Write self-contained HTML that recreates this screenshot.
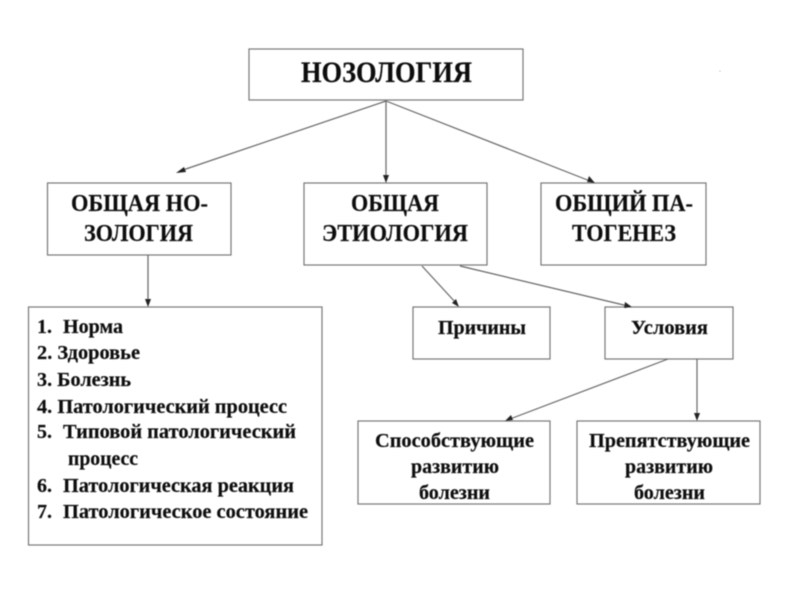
<!DOCTYPE html>
<html><head><meta charset="utf-8"><style>
html,body{margin:0;padding:0;background:#fff;width:800px;height:600px;overflow:hidden}
svg{display:block}
text{font-family:"Liberation Serif","Noto Serif CJK SC",serif;font-weight:bold;fill:#111;stroke:#111;stroke-width:.2}
.a{font-size:30px}.b{font-size:24.5px}.c{font-size:20.5px}
rect{fill:none;stroke:#777;stroke-width:1.2}
line{stroke:#666;stroke-width:1.2}
polygon{fill:#222}
</style></head><body>
<svg width="800" height="600" viewBox="0 0 800 600" xmlns="http://www.w3.org/2000/svg">
<defs><filter id="s" x="-2%" y="-2%" width="104%" height="104%"><feGaussianBlur stdDeviation="0.5"/></filter></defs>
<rect x="0" y="0" width="800" height="600" style="fill:#fff;stroke:none"/>
<g filter="url(#s)">
<text class="a" x="301" y="82" textLength="171" lengthAdjust="spacingAndGlyphs">НОЗОЛОГИЯ</text>
<text class="b" x="71" y="211" textLength="137" lengthAdjust="spacingAndGlyphs">ОБЩАЯ НО-</text>
<text class="b" x="84" y="241" textLength="109" lengthAdjust="spacingAndGlyphs">ЗОЛОГИЯ</text>
<text class="b" x="351" y="211" textLength="88" lengthAdjust="spacingAndGlyphs">ОБЩАЯ</text>
<text class="b" x="322" y="241" textLength="146" lengthAdjust="spacingAndGlyphs">ЭТИОЛОГИЯ</text>
<text class="b" x="555" y="211" textLength="138" lengthAdjust="spacingAndGlyphs">ОБЩИЙ ПА-</text>
<text class="b" x="572" y="241" textLength="104" lengthAdjust="spacingAndGlyphs">ТОГЕНЕЗ</text>

<text class="c" x="37" y="333" textLength="15" lengthAdjust="spacingAndGlyphs">1.</text>
<text class="c" x="63" y="333" textLength="60" lengthAdjust="spacingAndGlyphs">Норма</text>
<text class="c" x="37" y="359" textLength="103" lengthAdjust="spacingAndGlyphs">2. Здоровье</text>
<text class="c" x="37" y="386" textLength="94" lengthAdjust="spacingAndGlyphs">3. Болезнь</text>
<text class="c" x="37" y="413" textLength="250" lengthAdjust="spacingAndGlyphs">4. Патологический процесс</text>
<text class="c" x="37" y="438" textLength="15" lengthAdjust="spacingAndGlyphs">5.</text>
<text class="c" x="63" y="438" textLength="233" lengthAdjust="spacingAndGlyphs">Типовой патологический</text>
<text class="c" x="68" y="465" textLength="70" lengthAdjust="spacingAndGlyphs">процесс</text>
<text class="c" x="37" y="492" textLength="15" lengthAdjust="spacingAndGlyphs">6.</text>
<text class="c" x="63" y="492" textLength="231" lengthAdjust="spacingAndGlyphs">Патологическая реакция</text>
<text class="c" x="37" y="518" textLength="15" lengthAdjust="spacingAndGlyphs">7.</text>
<text class="c" x="63" y="518" textLength="245" lengthAdjust="spacingAndGlyphs">Патологическое состояние</text>

<text class="c" x="438" y="334" textLength="88" lengthAdjust="spacingAndGlyphs">Причины</text>
<text class="c" x="631" y="334" textLength="77" lengthAdjust="spacingAndGlyphs">Условия</text>
<text class="c" x="375" y="447" textLength="159" lengthAdjust="spacingAndGlyphs">Способствующие</text>
<text class="c" x="411" y="473" textLength="88" lengthAdjust="spacingAndGlyphs">развитию</text>
<text class="c" x="419" y="499" textLength="71" lengthAdjust="spacingAndGlyphs">болезни</text>
<text class="c" x="589" y="447" textLength="161" lengthAdjust="spacingAndGlyphs">Препятствующие</text>
<text class="c" x="625" y="473" textLength="88" lengthAdjust="spacingAndGlyphs">развитию</text>
<text class="c" x="634" y="499" textLength="71" lengthAdjust="spacingAndGlyphs">болезни</text>

<rect x="249" y="49" width="274" height="51"/>
<rect x="47.5" y="183" width="183.5" height="72"/>
<rect x="304" y="183" width="183" height="82"/>
<rect x="541" y="183" width="165" height="82"/>
<rect x="28.5" y="307" width="293.5" height="238"/>
<rect x="413" y="307" width="137" height="52"/>
<rect x="605" y="307" width="128" height="52"/>
<rect x="358" y="421" width="192" height="83"/>
<rect x="577" y="421" width="183" height="83"/>

<line x1="386" y1="101" x2="180" y2="171"/>
<polygon points="176,173 184,167 186,172"/>
<line x1="386" y1="101" x2="590" y2="181"/>
<polygon points="595,183 587,182 589,176"/>
<line x1="386" y1="101" x2="386" y2="178"/>
<polygon points="386,183 383,175 389,175"/>
<line x1="148" y1="255" x2="148" y2="302"/>
<polygon points="148,307 145,299 151,299"/>
<line x1="422" y1="266" x2="456" y2="303"/>
<polygon points="459,307 452,303 456,299"/>
<line x1="460" y1="266" x2="628" y2="306"/>
<polygon points="632,307 624,308 625,302"/>
<line x1="668" y1="359" x2="510" y2="419"/>
<polygon points="505,421 511,415 513,420"/>
<line x1="697" y1="359" x2="697" y2="416"/>
<polygon points="697,421 694,413 700,413"/>
</g>
<circle cx="720" cy="71" r="0.7" fill="#ccc"/>
</svg>
</body></html>
